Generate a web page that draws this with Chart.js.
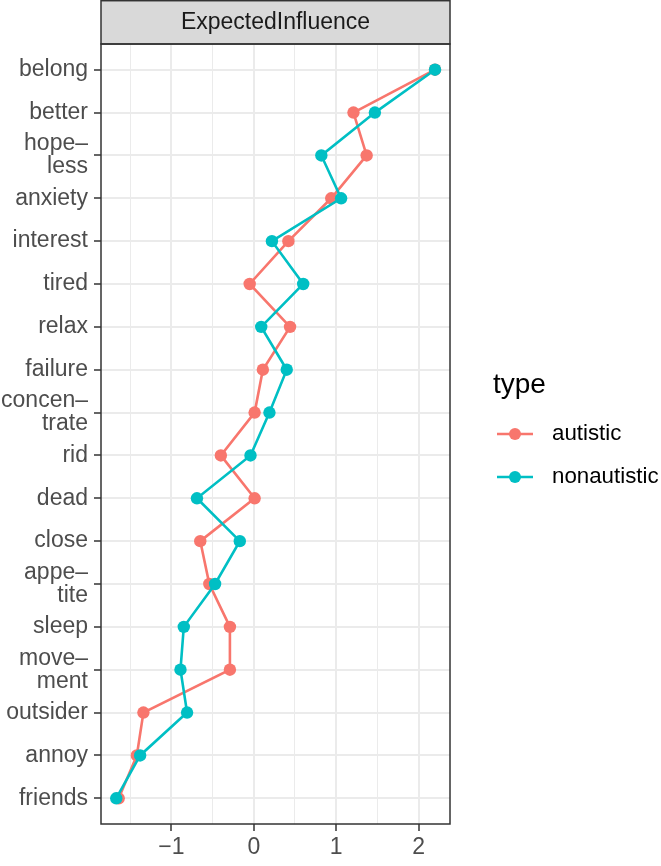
<!DOCTYPE html>
<html>
<head>
<meta charset="utf-8">
<script src="https://cdn.jsdelivr.net/npm/chart.js@4"></script>
<style>
    body { margin: 0; background: #ffffff; }
    canvas { display: block; }
</style>
</head>
<body>
<canvas id="influenceChart" width="661" height="866"></canvas>
<script>
const categories = ['belong', 'better', 'hope–\nless', 'anxiety', 'interest', 'tired', 'relax', 'failure',
    'concen–\ntrate', 'rid', 'dead', 'close', 'appe–\ntite', 'sleep', 'move–\nment', 'outsider', 'annoy', 'friends'];
const autistic = [2.20, 1.21, 1.37, 0.94, 0.42, -0.05, 0.44, 0.11, 0.01, -0.40, 0.01, -0.65, -0.54, -0.29, -0.29, -1.34, -1.42, -1.64];
const nonautistic = [2.20, 1.47, 0.82, 1.06, 0.22, 0.60, 0.09, 0.40, 0.19, -0.04, -0.69, -0.17, -0.47, -0.85, -0.89, -0.81, -1.38, -1.67];
const xTicks = [-1.5, -1, -0.5, 0, 0.5, 1, 1.5, 2];
const panelTitle = 'ExpectedInfluence';
const legendTitle = 'type';

const FONT = '"Liberation Sans", Arial, Helvetica, sans-serif';

document.addEventListener("DOMContentLoaded", () => {
    drawChart();
});

function toPoints(values) {
    return values.map((v, i) => ({ x: v, y: i }));
}

const panelPlugin = {
    id: 'panel',
    afterDraw(chart) {
        const { ctx, chartArea } = chart;
        ctx.save();
        // strip on top
        ctx.fillStyle = '#D9D9D9';
        ctx.fillRect(chartArea.left, 0.7, chartArea.right - chartArea.left, chartArea.top - 0.7);
        ctx.strokeStyle = '#333333';
        ctx.lineWidth = 1.5;
        ctx.strokeRect(chartArea.left, 0.7, chartArea.right - chartArea.left, chartArea.top - 0.7);
        ctx.fillStyle = '#1A1A1A';
        ctx.font = '23px ' + FONT;
        ctx.textAlign = 'center';
        ctx.textBaseline = 'middle';
        ctx.fillText(panelTitle, (chartArea.left + chartArea.right) / 2, chartArea.top / 2 + 1);
        // panel border
        ctx.strokeRect(chartArea.left, chartArea.top, chartArea.right - chartArea.left, chartArea.bottom - chartArea.top);

        // legend
        ctx.fillStyle = '#000000';
        ctx.textAlign = 'left';
        ctx.font = '28px ' + FONT;
        ctx.fillText(legendTitle, 493, 385);
        ctx.font = '22.3px ' + FONT;
        chart.data.datasets.forEach((ds, i) => {
            const y = 434 + i * 43;
            ctx.strokeStyle = ds.borderColor;
            ctx.lineWidth = 2.6;
            ctx.beginPath();
            ctx.moveTo(497, y);
            ctx.lineTo(533, y);
            ctx.stroke();
            ctx.fillStyle = ds.borderColor;
            ctx.beginPath();
            ctx.arc(515, y, 6, 0, Math.PI * 2);
            ctx.fill();
            ctx.fillStyle = '#000000';
            ctx.fillText(ds.label, 552, y);
        });
        ctx.restore();
    }
};

function drawChart() {
    const ctx = document.getElementById('influenceChart').getContext('2d');
    new Chart(ctx, {
        type: 'scatter',
        data: {
            datasets: [
                {
                    label: 'autistic',
                    data: toPoints(autistic),
                    borderColor: '#F8766D',
                    backgroundColor: '#F8766D',
                    showLine: true,
                    borderWidth: 2.6,
                    pointRadius: 6.2,
                    pointBorderWidth: 0,
                    order: 1
                },
                {
                    label: 'nonautistic',
                    data: toPoints(nonautistic),
                    borderColor: '#00BFC4',
                    backgroundColor: '#00BFC4',
                    showLine: true,
                    borderWidth: 2.6,
                    pointRadius: 6.2,
                    pointBorderWidth: 0,
                    order: 0
                }
            ]
        },
        options: {
            responsive: false,
            animation: false,
            layout: { padding: { top: 44, right: 211, left: 0, bottom: 0 } },
            plugins: {
                legend: { display: false },
                tooltip: { enabled: false }
            },
            scales: {
                x: {
                    type: 'linear',
                    min: -1.855,
                    max: 2.382,
                    afterBuildTicks: (scale) => {
                        scale.ticks = xTicks.map(v => ({ value: v }));
                    },
                    afterFit: (scale) => { scale.height = 42; },
                    border: { display: false },
                    grid: {
                        color: '#EBEBEB',
                        lineWidth: (c) => Number.isInteger(c.tick.value) ? 2 : 1,
                        tickColor: (c) => Number.isInteger(c.tick.value) ? '#333333' : 'rgba(0,0,0,0)',
                        tickWidth: 1.5,
                        tickLength: 7
                    },
                    ticks: {
                        autoSkip: false,
                        maxRotation: 0,
                        padding: 3,
                        color: '#4D4D4D',
                        font: { family: FONT, size: 23 },
                        callback: (v) => Number.isInteger(v) ? (v < 0 ? '−' + Math.abs(v) : String(v)) : ''
                    }
                },
                y: {
                    type: 'linear',
                    reverse: true,
                    min: -0.6,
                    max: categories.length - 0.4,
                    afterBuildTicks: (scale) => {
                        scale.ticks = categories.map((c, i) => ({ value: i }));
                    },
                    afterFit: (scale) => { scale.width = 101; },
                    border: { display: false },
                    grid: {
                        color: '#EBEBEB',
                        lineWidth: 2,
                        tickColor: '#333333',
                        tickWidth: 1.5,
                        tickLength: 7
                    },
                    ticks: {
                        autoSkip: false,
                        padding: 6,
                        color: '#4D4D4D',
                        font: { family: FONT, size: 23, lineHeight: 1.0 },
                        callback: (v) => categories[v] ? categories[v].split('\n') : ''
                    }
                }
            }
        },
        plugins: [panelPlugin]
    });
}
</script>
</body>
</html>
